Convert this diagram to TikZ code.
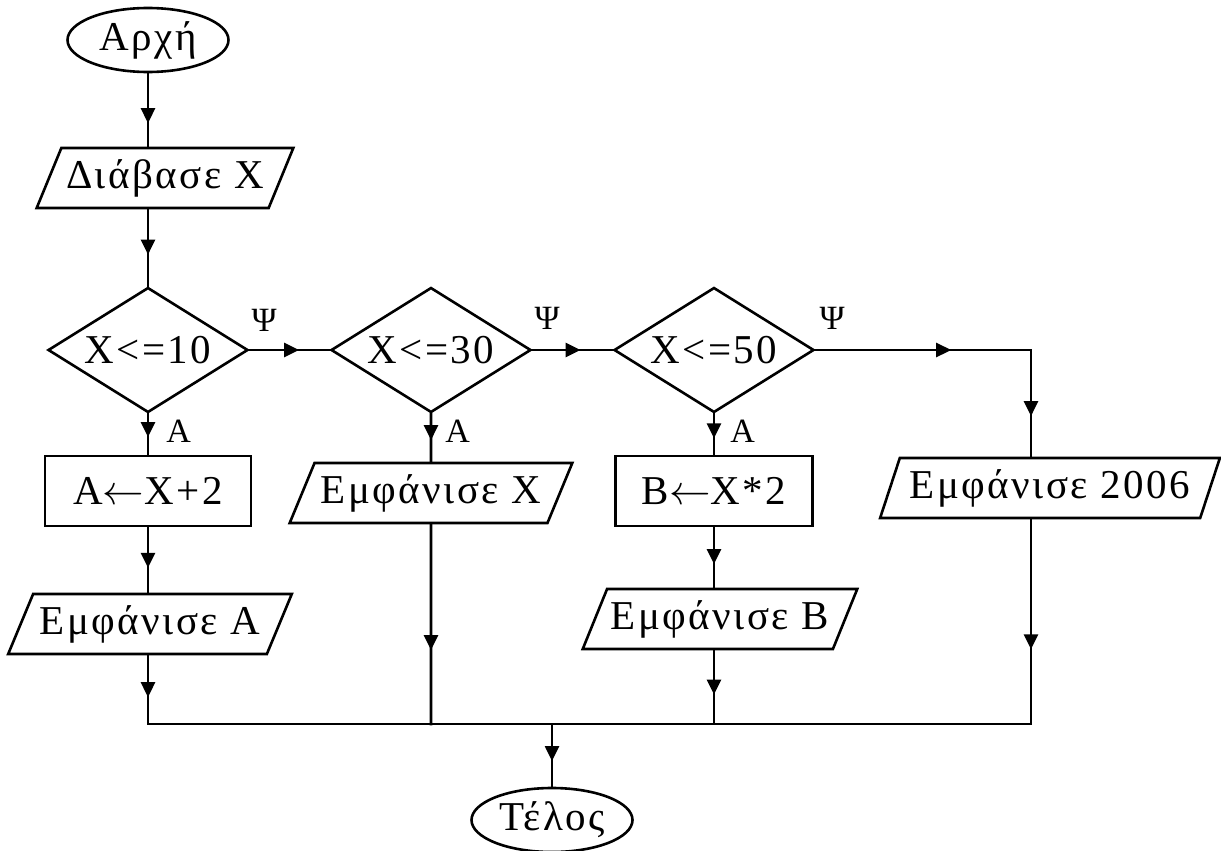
\documentclass[tikz,border=0pt]{standalone}
\usepackage{fontspec}
\setmainfont[LetterSpace=6]{Liberation Serif}
\usepackage{tikz}
\usetikzlibrary{positioning, arrows.meta, shapes.geometric, decorations.markings}
\tikzset{
  base/.style={
    draw, line width=1.3pt, inner sep=0pt,
    font=\fontsize{20.5}{23}\selectfont
  },
  terminal/.style={base, ellipse, minimum width=80.5pt, minimum height=32pt},
  decision/.style={base, diamond, aspect=1.6, minimum width=100pt, minimum height=62.5pt},
  process/.style={base, rectangle, minimum height=35pt},
  io/.style={
    base, trapezium, trapezium stretches=true,
    trapezium left angle=58, trapezium right angle=122,
    minimum height=30pt
  },
  lbl/.style={inner sep=0pt, font=\fontsize{17}{19}\selectfont},
  link/.style={line width=1.3pt, line cap=rect},
  flow/.style={
    link, postaction={decorate},
    decoration={markings,
      mark=at position #1 with {\arrow{Triangle[length=7.5pt,width=7pt]}}}
  },
  flow/.default=0.6,
}
\newcommand{\assign}{\ensuremath{\leftarrow}}

\begin{document}
\begin{tikzpicture}[x=0.5pt, y=-0.5pt]
  \useasboundingbox (0,0) rectangle (1221,851);

  \node[terminal] (start) at (148,40) {Αρχή};
  \node[io, minimum width=128.5pt] (read) at (165,178) {Διάβασε X};
  \node[decision] (d1) at (148,350) {X<=10};
  \node[decision] (d2) at (431,350) {X<=30};
  \node[decision] (d3) at (714,350) {X<=50};
  \node[process, minimum width=103pt] (calcA) at (148,491) {A\assign X+2};
  \node[io, minimum width=142pt] (outA) at (150,624) {Εμφάνισε A};
  \node[io, minimum width=141.5pt] (outX) at (431,493) {Εμφάνισε X};
  \node[process, minimum width=98.5pt] (calcB) at (714,491) {B\assign X*2};
  \node[io, minimum width=137.5pt] (outB) at (720,619) {Εμφάνισε B};
  \node[io, minimum width=170pt, trapezium left angle=64,
        trapezium right angle=116] (out2006) at (1050,488) {Εμφάνισε 2006};
  \node[terminal] (end) at (552,820) {Τέλος};

  \coordinate (turn) at (1031,350);
  \coordinate (bus) at (552,724);

  % yes / no labels
  \node[lbl, above right=9pt and 1pt of d1.east] (psi1) {Ψ};
  \node[lbl, above right=10pt and 1pt of d2.east] (psi2) {Ψ};
  \node[lbl, above right=10pt and 2pt of d3.east] (psi3) {Ψ};
  \node[lbl, below right=3pt and 9pt of d1.south] (alpha1) {A};
  \node[lbl, below right=3pt and 7pt of d2.south] (alpha2) {A};
  \node[lbl, below right=3pt and 8pt of d3.south] (alpha3) {A};

  % main column
  \draw[flow=0.68] (start) -- (start |- read.north);
  \draw[flow=0.59] (start |- read.south) -- (d1);
  \draw[flow=0.62] (d1) -- (d2);
  \draw[flow=0.6] (d2) -- (d3);
  \draw[flow=0.63] (d3) -- (turn);
  \draw[flow=0.62] (turn) -- (turn |- out2006.north);

  % branches
  \draw[flow=0.57] (d1) -- (calcA);
  \draw[flow=0.62] (calcA) -- (calcA |- outA.north);
  \draw[flow=0.61] (calcA |- outA.south) -- (calcA |- bus);
  \draw[flow=0.55] (d2) -- (outX);
  \draw[flow=0.63] (outX) -- (outX |- bus);
  \draw[flow=0.6] (d3) -- (calcB);
  \draw[flow=0.61] (calcB) -- (calcB |- outB.north);
  \draw[flow=0.6] (calcB |- outB.south) -- (calcB |- bus);
  \draw[flow=0.635] (turn |- out2006.south) -- (turn |- bus);

  \draw[link] (calcA |- bus) -- (turn |- bus);
  \draw[flow=0.59] (bus) -- (end);
\end{tikzpicture}
\end{document}
